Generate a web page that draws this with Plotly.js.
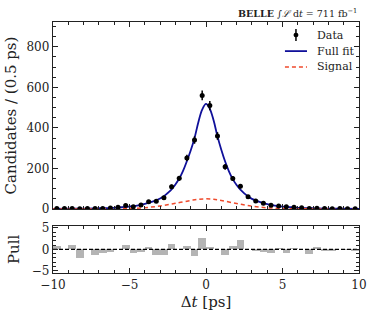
<!DOCTYPE html>
<html>
<head>
<meta charset="utf-8">
<script src="https://cdn.plot.ly/plotly-3.0.1.min.js"></script>
<style>
  body { margin: 0; background: #fff; }
  #chart { width: 373px; height: 323px; }
</style>
</head>
<body>
<div id="chart"></div>
<script>
// bin centres (0.5 ps bins)
const binCenters = [-9.75, -9.25, -8.75, -8.25, -7.75, -7.25, -6.75, -6.25, -5.75, -5.25,
    -4.75, -4.25, -3.75, -3.25, -2.75, -2.25, -1.75, -1.25, -0.75, -0.25,
    0.25, 0.75, 1.25, 1.75, 2.25, 2.75, 3.25, 3.75, 4.25, 4.75,
    5.25, 5.75, 6.25, 6.75, 7.25, 7.75, 8.25, 8.75, 9.25, 9.75];

// candidates per bin
const dataCounts = [3, 2, 3, 1, 2, 2, 3, 5, 8, 17,
    11, 20, 36, 38, 55, 110, 151, 252, 340, 560,
    510, 360, 208, 150, 112, 60, 40, 28, 19, 15,
    11, 9, 6, 3, 4, 2, 1.5, 2, 1, 1];

const dataErrors = [1.7, 1.4, 1.7, 1, 1.4, 1.4, 1.7, 2.2, 2.8, 4.1,
    3.3, 4.5, 6, 6.2, 7.4, 10.5, 12.3, 15.9, 18.4, 23.7,
    22.6, 19, 14.4, 12.2, 10.6, 7.7, 6.3, 5.3, 4.4, 3.9,
    3.3, 3, 2.4, 1.7, 2, 1.4, 1.2, 1.4, 1, 1];

// pull per bin
const pulls = [0.75, 0, 1.1, -1.9, 0, -1.3, -0.85, -0.7, 0, 1.1,
    -0.9, -0.6, 0.5, -1.2, -1.2, 1.3, 0, 0.85, -1.6, 2.7,
    0.5, 0.05, -1.4, 0.8, 2.3, 0, -0.4, -0.5, -0.8, 0.3,
    -0.85, 0.3, 0, -1.0, 0.45, -0.3, -0.4, 0.2, -0.1, -0.3];

// full fit curve
const fitT = [-10, -9, -8, -7, -6, -5.5, -5, -4.5, -4, -3.5, -3, -2.75, -2.5, -2.25, -2, -1.75,
    -1.5, -1.25, -1, -0.75, -0.5, -0.25, 0, 0.25, 0.5, 0.75, 1, 1.25, 1.5, 1.75,
    2, 2.25, 2.5, 2.75, 3, 3.5, 4, 4.5, 5, 5.5, 6, 7, 8, 9, 10];
const fitY = [1, 1.3, 2, 3.5, 6, 8.5, 12, 17, 25, 36, 52, 63, 79, 97, 121, 150,
    188, 236, 288, 350, 428, 490, 518, 494, 436, 358, 292, 234, 186, 147,
    118, 95, 77, 62, 50, 35, 24, 17, 12, 8.5, 6, 3.5, 2, 1.3, 1];

// signal component
const sigT = [-10, -8, -7, -6, -5, -4, -3, -2, -1, -0.5, 0, 0.5, 1, 2, 3, 4, 5, 6, 7, 8, 10];
const sigY = [0.2, 0.4, 0.6, 1.2, 2.8, 6.5, 15, 28, 42, 48, 50, 48, 42, 27, 14, 6, 2.5, 1, 0.5, 0.3, 0.2];

const legendNames = ['Data', 'Full fit', 'Signal'];

const font = 'DejaVu Serif, serif';
const ink = '#222';
const fitColor = '#10109a';
const sigColor = '#ef4a2c';

var traces = [
    {
        x: fitT, y: fitY, xaxis: 'x2', yaxis: 'y2',
        type: 'scatter', mode: 'lines', line: { shape: 'spline', color: fitColor, width: 1.8 }
    },
    {
        x: sigT, y: sigY, xaxis: 'x2', yaxis: 'y2',
        type: 'scatter', mode: 'lines', line: { shape: 'spline', color: sigColor, width: 1.5, dash: '4px,3px' }
    },
    {
        x: binCenters, y: dataCounts, xaxis: 'x2', yaxis: 'y2',
        type: 'scatter', mode: 'markers',
        marker: { color: '#000', size: 5 },
        error_y: { type: 'data', array: dataErrors, color: '#000', thickness: 1.5, width: 0 }
    },
    {
        x: binCenters, y: pulls, xaxis: 'x', yaxis: 'y',
        type: 'bar', width: 0.5, marker: { color: '#b4b4b4', line: { width: 0 } }
    },
    {
        x: [-10, 10], y: [0, 0], xaxis: 'x', yaxis: 'y',
        type: 'scatter', mode: 'lines', line: { color: '#000', width: 1.2, dash: '4px,2px' },
        hoverinfo: 'skip'
    }
];

const tickCommon = {
    ticks: 'inside', ticklen: 5, tickwidth: 1, tickcolor: ink,
    showline: true, linecolor: ink, linewidth: 1.2, mirror: 'allticks',
    showgrid: false, zeroline: false,
    tickfont: { family: font, size: 12, color: ink }
};

// hand made legend, top right of the main panel
const legY = [0.948, 0.884, 0.821];
var legendAnn = legendNames.map(function (name, i) {
    return {
        xref: 'paper', yref: 'paper', x: 0.855, y: legY[i], xanchor: 'left', yanchor: 'middle',
        showarrow: false, text: name, font: { family: font, size: 11, color: ink }
    };
});
var legendShapes = [
    { type: 'line', xref: 'paper', yref: 'paper', x0: 0.794, x1: 0.794, y0: legY[0] - 0.024, y1: legY[0] + 0.024, line: { color: '#000', width: 1.5 } },
    { type: 'circle', xref: 'paper', yref: 'paper', x0: 0.786, x1: 0.802, y0: legY[0] - 0.009, y1: legY[0] + 0.009, fillcolor: '#000', line: { width: 0 } },
    { type: 'line', xref: 'paper', yref: 'paper', x0: 0.758, x1: 0.830, y0: legY[1], y1: legY[1], line: { color: fitColor, width: 1.8 } },
    { type: 'line', xref: 'paper', yref: 'paper', x0: 0.758, x1: 0.830, y0: legY[2], y1: legY[2], line: { color: sigColor, width: 1.5, dash: '4px,3px' } }
];

var layout = {
    width: 373, height: 323,
    margin: { l: 53, r: 14, t: 22, b: 50 },
    paper_bgcolor: '#fff', plot_bgcolor: '#fff',
    showlegend: false,
    bargap: 0,
    xaxis: Object.assign({}, tickCommon, {
        domain: [0, 1], anchor: 'y', range: [-10, 10], dtick: 5, tick0: 0,
        minor: { dtick: 1, ticklen: 3, tickcolor: ink, ticks: 'inside' },
        title: { text: 'Δ<i>t</i> [ps]', font: { family: font, size: 15, color: ink }, standoff: 6 }
    }),
    yaxis: Object.assign({}, tickCommon, {
        domain: [0, 0.188], anchor: 'x', range: [-5.5, 5.5], dtick: 5, tick0: 0,
        minor: { dtick: 1, ticklen: 3, tickcolor: ink, ticks: 'inside' },
        title: { text: 'Pull', font: { family: font, size: 15, color: ink }, standoff: 8 }
    }),
    xaxis2: Object.assign({}, tickCommon, {
        domain: [0, 1], anchor: 'y2', range: [-10, 10], dtick: 5, tick0: 0,
        showticklabels: false,
        minor: { dtick: 1, ticklen: 3, tickcolor: ink, ticks: 'inside' }
    }),
    yaxis2: Object.assign({}, tickCommon, {
        domain: [0.255, 1], anchor: 'x2', range: [0, 922], dtick: 200, tick0: 0,
        minor: { dtick: 50, ticklen: 3, tickcolor: ink, ticks: 'inside' },
        title: { text: 'Candidates / (0.5 ps)', font: { family: font, size: 15, color: ink }, standoff: 6 }
    }),
    shapes: legendShapes,
    annotations: [
        {
            xref: 'paper', yref: 'paper', x: 1, y: 1, xanchor: 'right', yanchor: 'bottom', yshift: 1,
            showarrow: false,
            text: '<b>BELLE</b> ∫<i>ℒ</i> d<i>t</i> = 711 fb<sup>−1</sup>',
            font: { family: font, size: 9.5, color: ink }
        }
    ].concat(legendAnn)
};

Plotly.newPlot('chart', traces, layout, { displayModeBar: false, staticPlot: true });
</script>
</body>
</html>
